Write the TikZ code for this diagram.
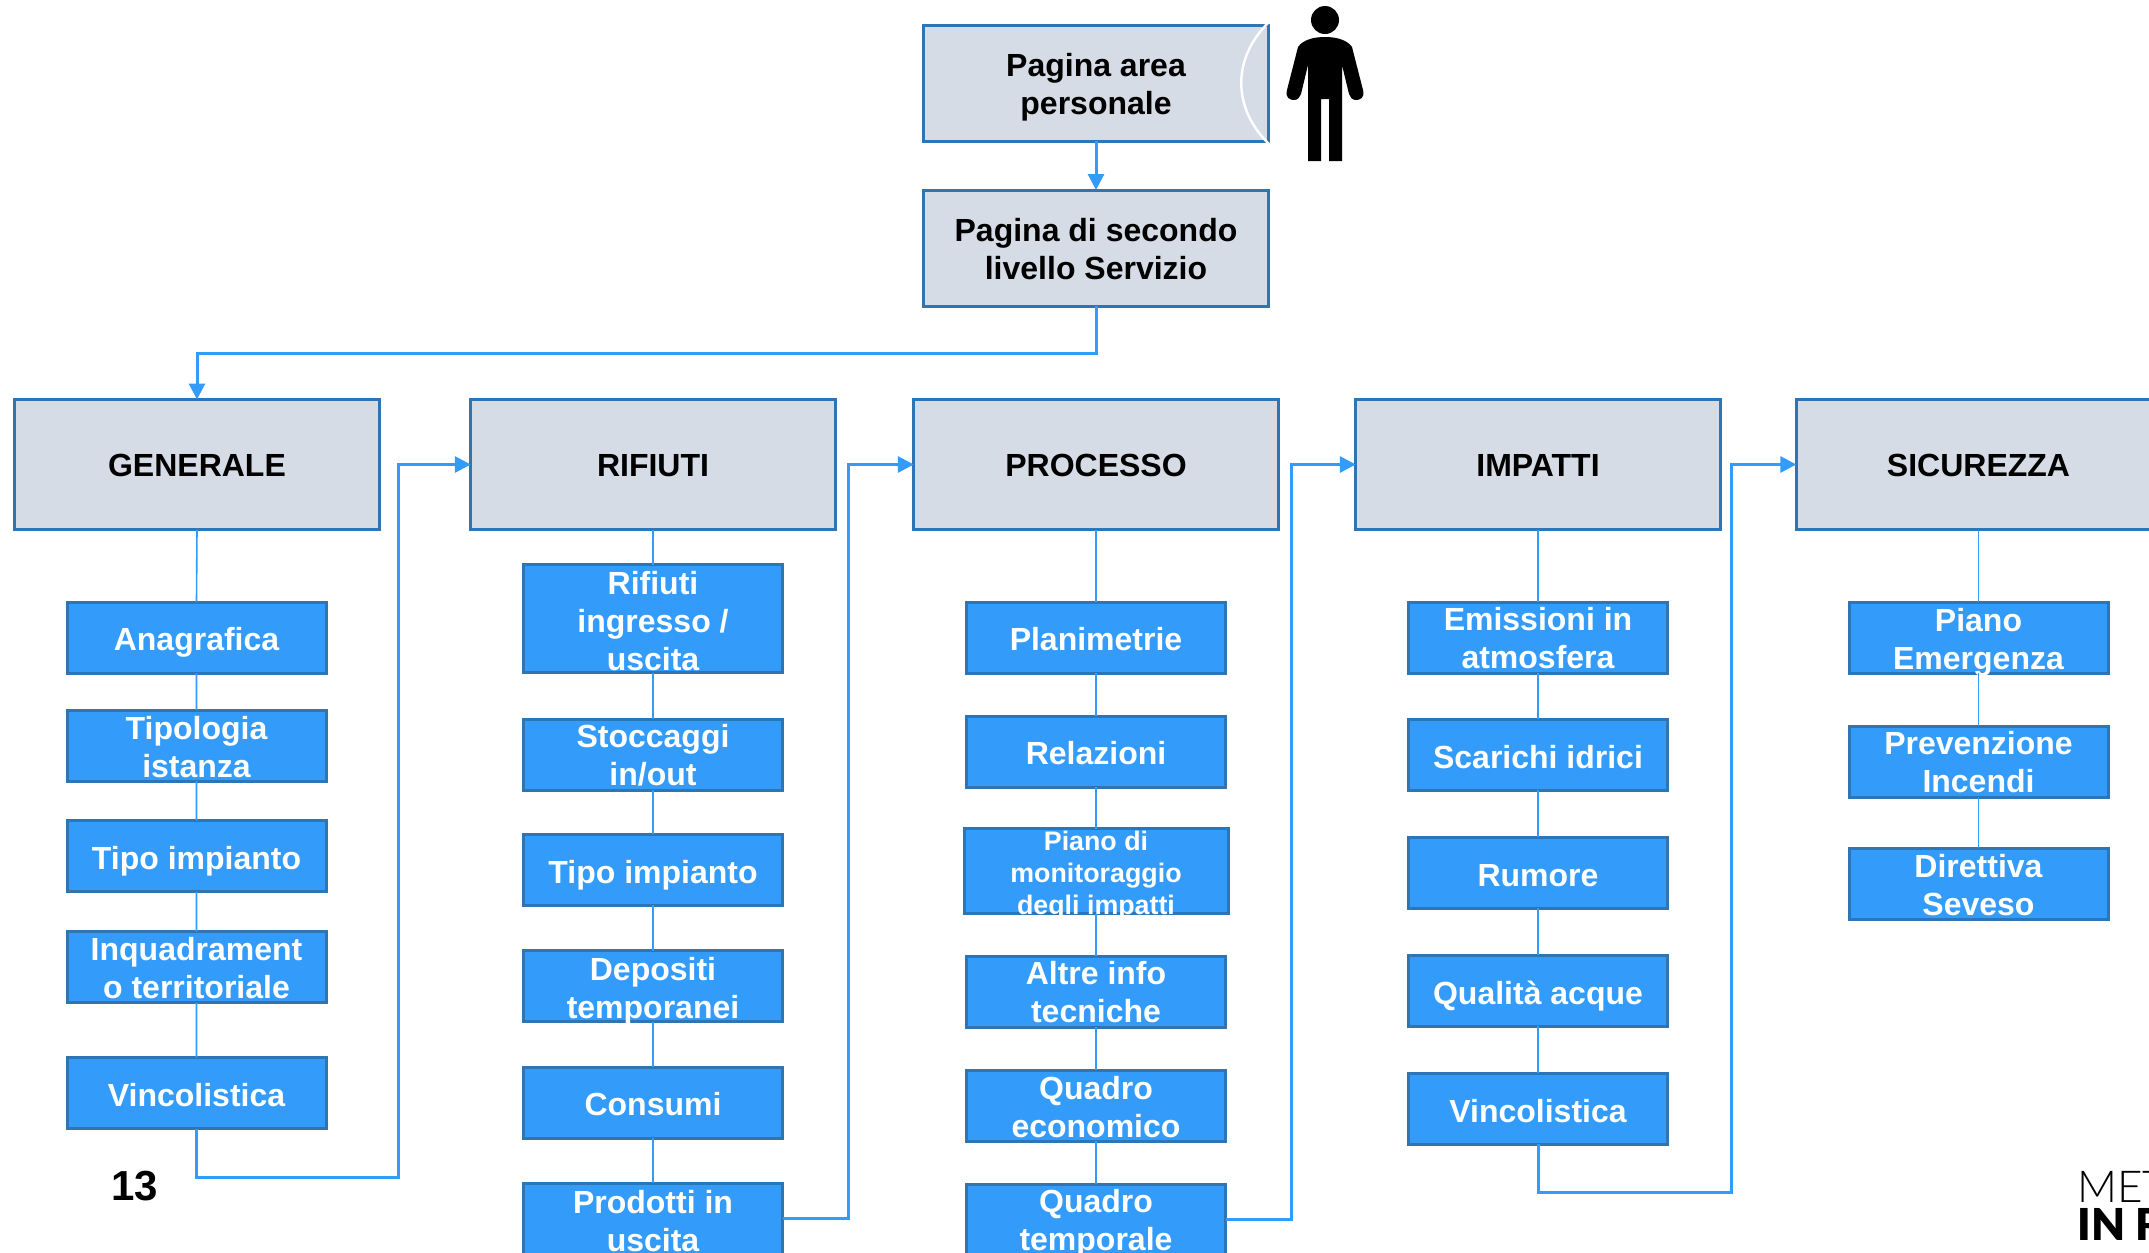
\documentclass[tikz,border=0pt]{standalone}
\usepackage{fontspec}
\setmainfont{Liberation Sans}
\newfontfamily\logolight{Lato Light}
\newfontfamily\logoheavy{Lato Black}
\usetikzlibrary{arrows.meta}
\definecolor{paleblue}{HTML}{D6DCE5}
\definecolor{midblue}{HTML}{339CFB}
\definecolor{edgeblue}{HTML}{2E75B6}
\tikzset{
  x=0.5pt,y=-0.5pt,
  palebox/.style={draw=edgeblue,line width=1.5pt,fill=paleblue,inner sep=0pt,outer sep=0pt},
  pagebox/.style={palebox,minimum width=172.2pt,minimum height=58pt},
  headbox/.style={palebox,minimum width=182.2pt,minimum height=65pt},
  subbox/.style={draw=edgeblue,line width=1.5pt,fill=midblue,inner sep=0pt,outer sep=0pt,minimum width=129.5pt,minimum height=35.5pt},
  darklabel/.style={align=center,text=black,font=\fontsize{16}{19}\selectfont\bfseries,inner sep=0pt},
  whitelabel/.style={align=center,text=white,font=\fontsize{16}{19}\selectfont\bfseries,inner sep=0pt},
  smalllabel/.style={align=center,text=white,font=\fontsize{13.4}{16}\selectfont\bfseries,inner sep=0pt},
  thinlink/.style={draw=midblue,line width=0.8pt},
  flowlink/.style={draw=midblue,line width=1.5pt,-{Triangle[length=8pt,width=8pt]}},
}
\newcommand{\pagebx}[5]{\node[pagebox] (#1) at (#2,#3) {}; \node[darklabel] (#1t) at (#2,#3+#4) {#5};}
\newcommand{\headbx}[4]{\node[headbox] (#1) at (#2,#3) {}; \node[darklabel] (#1t) at (#2,#3+1) {#4};}
\newcommand{\subbx}[5]{\node[subbox] (#1) at (#2,#3) {}; \node[whitelabel] (#1t) at (#2,#3+#4) {#5};}
\begin{document}
\begin{tikzpicture}
\useasboundingbox (0,0) rectangle (2149,1253);
\clip (0,0) rectangle (2149,1253);
\fill[white] (0,0) rectangle (2149,1253);

% top boxes
\pagebx{area}{1096}{83}{4}{Pagina area\\personale}
\draw[white,line width=1.2pt] (1269,22) .. controls (1232,58) and (1232,108) .. (1269,144);
\pagebx{second}{1096}{248}{1.5}{Pagina di secondo\\livello Servizio}

% person
\fill[black] (1325,20) circle[radius=14];
\fill[black] (1325,37) .. controls (1337,37) and (1347,40) .. (1352,47)
  -- (1363,90) .. controls (1365,98) and (1360,100) .. (1356,100)
  .. controls (1352,100) and (1350,97) .. (1349,94)
  -- (1342,65) -- (1342,161) -- (1329,161) -- (1329,99) -- (1321,99) -- (1321,161) -- (1308,161) -- (1308,65)
  -- (1301,94) .. controls (1300,97) and (1298,100) .. (1294,100)
  .. controls (1290,100) and (1285,98) .. (1287,90)
  -- (1298,47) .. controls (1303,40) and (1313,37) .. (1325,37) -- cycle;

% headers
\headbx{gen}{197}{464.5}{GENERALE}
\headbx{rif}{653}{464.5}{RIFIUTI}
\headbx{pro}{1096}{464.5}{PROCESSO}
\headbx{imp}{1538}{464.5}{IMPATTI}
\headbx{sic}{1978.5}{464.5}{SICUREZZA}

% GENERALE
\subbx{ga}{196.5}{637.5}{5}{Anagrafica}
\subbx{gb}{196.5}{745.5}{2}{Tipologia\\istanza}
\subbx{gc}{196.5}{856}{5}{Tipo impianto}
\subbx{gd}{196.5}{967}{1.5}{Inquadrament\\o territoriale}
\subbx{ge}{196.5}{1093}{2}{Vincolistica}

% RIFIUTI
\node[subbox,minimum height=54pt] (ra) at (653,618.5) {};
\node[whitelabel] (rat) at (653,621) {Rifiuti\\ingresso /\\uscita};
\subbx{rb}{653}{754.5}{1}{Stoccaggi\\in/out}
\subbx{rc}{653}{869.5}{5.5}{Tipo impianto}
\subbx{rd}{653}{986}{5}{Depositi\\temporanei}
\subbx{re}{653}{1102.5}{2}{Consumi}
\subbx{rf}{653}{1218.5}{2.5}{Prodotti in\\uscita}

% PROCESSO
\subbx{pa}{1096}{637.5}{2}{Planimetrie}
\subbx{pb}{1096}{751.5}{1.5}{Relazioni}
\node[subbox,minimum width=132pt,minimum height=42.5pt] (pc) at (1096,871) {};
\begin{scope}
  \clip ([xshift=-1pt,yshift=-0.7pt]pc.south west) rectangle ([xshift=1pt,yshift=0.7pt]pc.north east);
  \node[smalllabel] (pct) at (1096,876) {Piano di\\monitoraggio\\degli impatti};
\end{scope}
\subbx{pd}{1096}{991.5}{1}{Altre info\\tecniche}
\subbx{pe}{1096}{1105.5}{1.5}{Quadro\\economico}
\subbx{pf}{1096}{1219.5}{3.5}{Quadro\\temporale}

% IMPATTI
\subbx{ia}{1538}{637.5}{1}{Emissioni in\\atmosfera}
\subbx{ib}{1538}{754.5}{3}{Scarichi idrici}
\subbx{ic}{1538}{872.5}{3}{Rumore}
\subbx{id}{1538}{990.5}{5.5}{Qualità acque}
\subbx{ie}{1538}{1108.5}{3}{Vincolistica}

% SICUREZZA
\subbx{sa}{1978.5}{637.5}{4.5}{Piano\\Emergenza}
\subbx{sb}{1978.5}{761.5}{1}{Prevenzione\\Incendi}
\subbx{sc}{1978.5}{883.5}{2}{Direttiva\\Seveso}

% thin links
\draw[thinlink] (gen.south) -- (ga.north) (ga.south) -- (gb.north) (gb.south) -- (gc.north) (gc.south) -- (gd.north) (gd.south) -- (ge.north);
\draw[thinlink] (rif.south) -- (ra.north) (ra.south) -- (rb.north) (rb.south) -- (rc.north) (rc.south) -- (rd.north) (rd.south) -- (re.north) (re.south) -- (rf.north);
\draw[thinlink] (pro.south) -- (pa.north) (pa.south) -- (pb.north) (pb.south) -- (pc.north) (pc.south) -- (pd.north) (pd.south) -- (pe.north) (pe.south) -- (pf.north);
\draw[thinlink] (imp.south) -- (ia.north) (ia.south) -- (ib.north) (ib.south) -- (ic.north) (ic.south) -- (id.north) (id.south) -- (ie.north);
\draw[thinlink] (sic.south) -- (sa.north) (sa.south) -- (sb.north) (sb.south) -- (sc.north);

% flow links
\coordinate (elbowtop) at (0,353);
\coordinate (elbowa) at (398.5,1177);
\coordinate (elbowb) at (848,464.5);
\coordinate (elbowc) at (1291,464.5);
\coordinate (elbowd) at (1731.5,1192);
\draw[flowlink] (area.south) -- (second.north);
\draw[flowlink] (second.south) -- (second.south |- elbowtop) -| (gen.north);
\draw[flowlink] (ge.south) |- (elbowa) |- (rif.west);
\draw[flowlink] (rf.east) -| (elbowb) -- (pro.west);
\draw[flowlink] (pf.east) -| (elbowc) -- (imp.west);
\draw[flowlink] (ie.south) |- (elbowd) |- (sic.west);

% page number and logo
\node[text=black,font=\fontsize{21}{24}\selectfont\bfseries,inner sep=0pt] (pagenum) at (135,1186) {13};
\node[anchor=base west,inner sep=0pt,font=\fontsize{22}{24}\selectfont\logolight] (logoa) at (2077,1202) {MET};
\node[anchor=base west,inner sep=0pt,font=\fontsize{22}{24}\selectfont\logoheavy] (logob) at (2077,1240) {IN R};
\end{tikzpicture}
\end{document}
